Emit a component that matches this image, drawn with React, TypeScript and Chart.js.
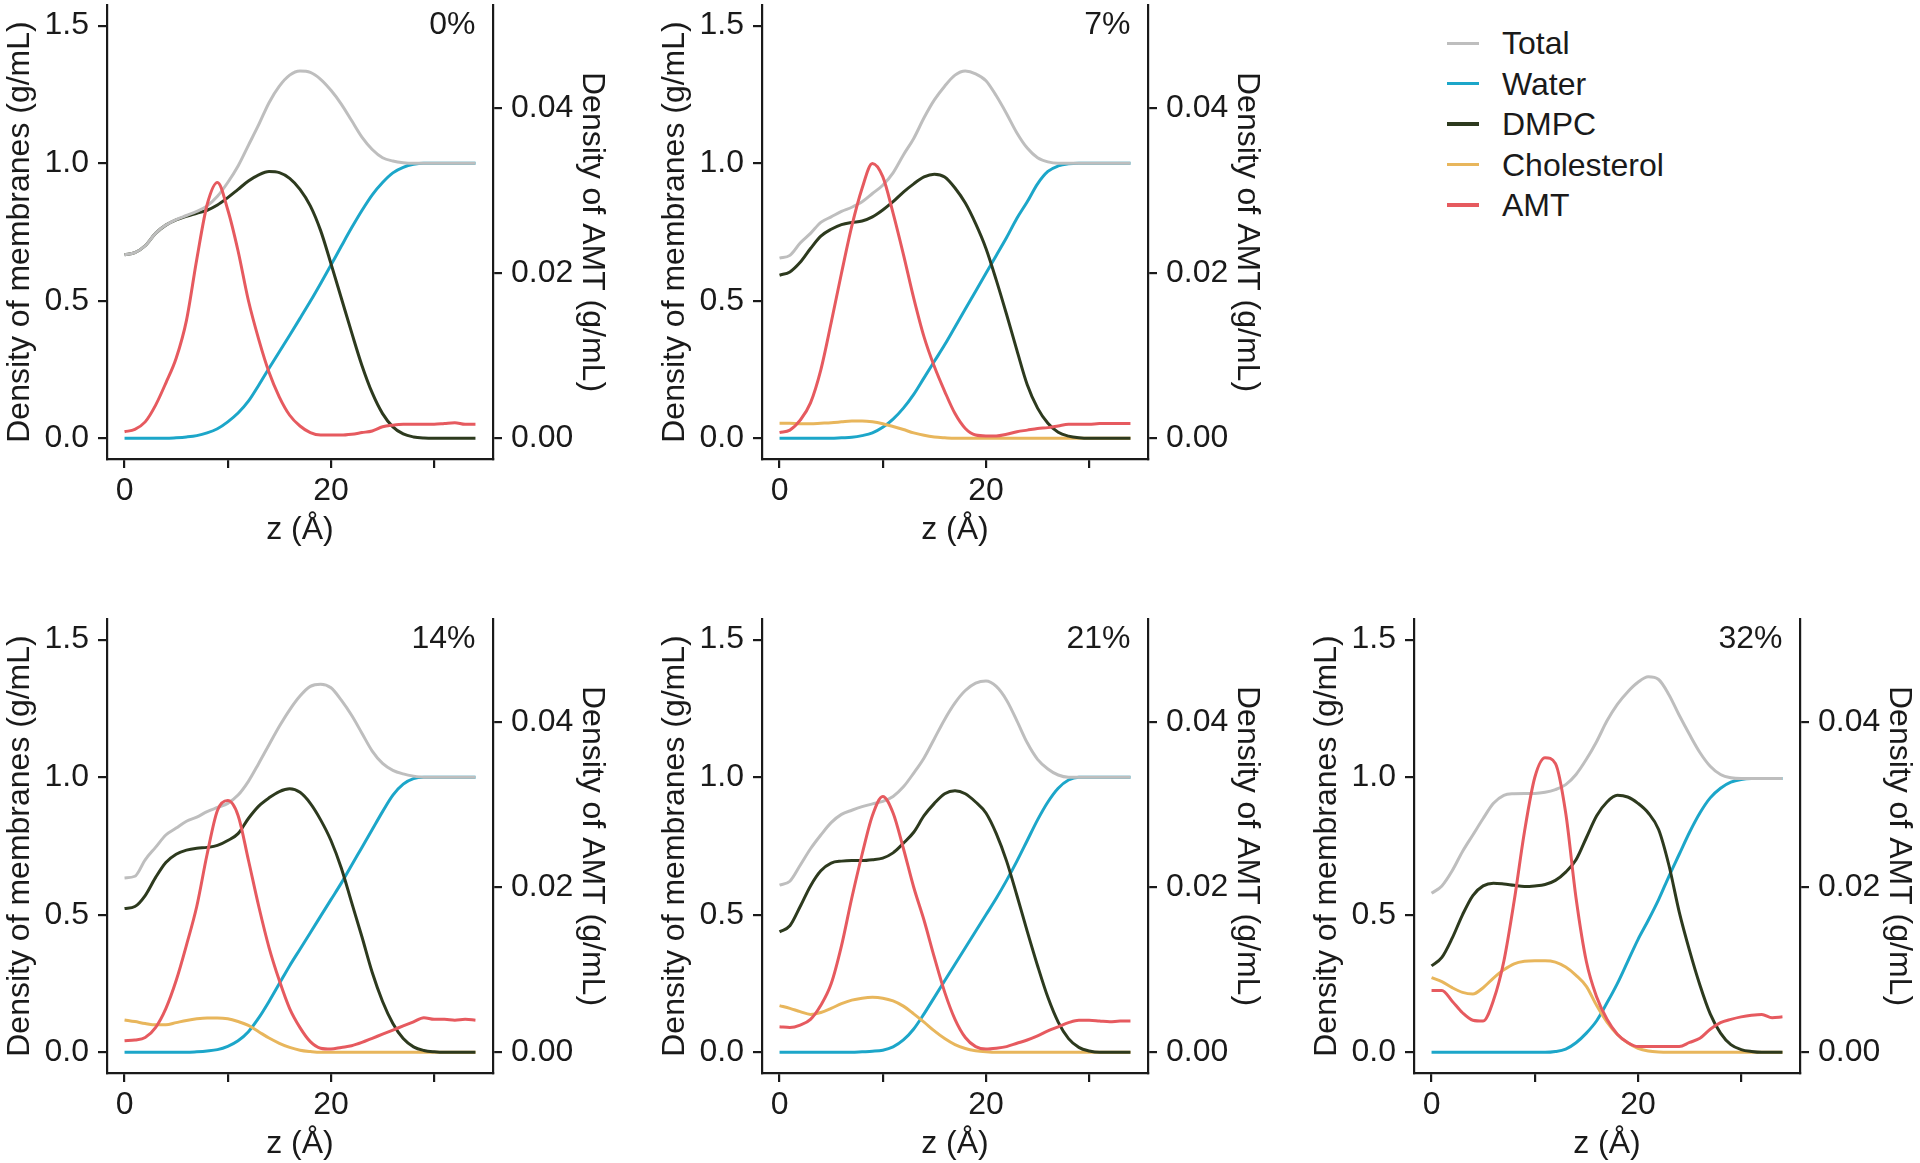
import React, { useEffect, useRef } from "react";
import { Chart, registerables } from "chart.js";

Chart.register(...registerables);

// ---------- data ----------
const Z = [0,1,2,3,4,5,6,7,8,9,10,11,12,13,14,15,16,17,18,19,20,21,22,23,24,25,26,27,28,29,30,31,32,33,34];

const SERIES_NAMES = ["Total", "Water", "DMPC", "Cholesterol", "AMT"];
const SERIES_COLORS = ["#BEBEBE", "#1CA6C9", "#2D3A1E", "#E8B65C", "#E65A5F"];
const SERIES_ORDER = [1, 4, 2, 3, 0];

const PANEL_LABELS = ["0%", "7%", "14%", "21%", "32%"];

// 0 %
const TOTAL_0 = [0.667,0.675,0.70,0.745,0.775,0.795,0.81,0.825,0.845,0.88,0.93,0.99,1.065,1.14,1.22,1.28,1.32,1.335,1.33,1.305,1.265,1.215,1.155,1.095,1.05,1.02,1.008,1.002,1.0,1.0,1.0,1.0,1.0,1.0,1.0];
const WATER_0 = [0,0,0,0,0,0.002,0.005,0.01,0.02,0.035,0.06,0.092,0.135,0.193,0.255,0.315,0.375,0.436,0.498,0.563,0.63,0.698,0.765,0.828,0.885,0.93,0.965,0.985,0.996,1.0,1.0,1.0,1.0,1.0,1.0];
const DMPC_0 = [0.667,0.675,0.70,0.745,0.775,0.794,0.807,0.818,0.829,0.848,0.875,0.905,0.935,0.958,0.97,0.966,0.945,0.905,0.845,0.755,0.635,0.51,0.385,0.265,0.165,0.09,0.042,0.016,0.005,0.001,0,0,0,0,0];
const AMT_0 = [0.0008,0.0011,0.0020,0.0040,0.0067,0.0097,0.0143,0.0217,0.0283,0.0310,0.0277,0.0227,0.0167,0.0120,0.0080,0.0050,0.0028,0.0015,0.0007,0.0004,0.0004,0.0004,0.0005,0.0007,0.0009,0.0014,0.0016,0.0017,0.0017,0.0017,0.0017,0.0018,0.0019,0.0017,0.0017];

// 7 %
const TOTAL_7 = [0.655,0.665,0.71,0.745,0.785,0.805,0.825,0.84,0.86,0.89,0.92,0.965,1.03,1.09,1.165,1.23,1.28,1.32,1.335,1.325,1.30,1.245,1.18,1.11,1.055,1.02,1.005,1.0,1.0,1.0,1.0,1.0,1.0,1.0,1.0];
const WATER_7 = [0,0,0,0,0,0,0.002,0.004,0.01,0.02,0.04,0.07,0.11,0.16,0.22,0.28,0.34,0.405,0.47,0.535,0.60,0.665,0.73,0.80,0.86,0.925,0.97,0.99,0.998,1.0,1.0,1.0,1.0,1.0,1.0];
const DMPC_7 = [0.593,0.605,0.64,0.69,0.735,0.76,0.777,0.785,0.79,0.805,0.83,0.86,0.895,0.925,0.95,0.96,0.95,0.91,0.855,0.78,0.69,0.575,0.45,0.32,0.195,0.11,0.055,0.022,0.008,0.002,0,0,0,0,0];
const CHOL_7 = [0.055,0.055,0.053,0.053,0.055,0.057,0.06,0.063,0.063,0.06,0.053,0.043,0.032,0.02,0.011,0.005,0.002,0,0,0,0,0,0,0,0,0,0,0,0,0,0,0,0,0,0];
const AMT_7 = [0.0007,0.0010,0.0022,0.0043,0.0083,0.0140,0.0200,0.0257,0.0303,0.0333,0.0317,0.0273,0.0223,0.0170,0.0123,0.0087,0.0057,0.0030,0.0012,0.0004,0.0003,0.0003,0.0005,0.0008,0.0010,0.0012,0.0013,0.0015,0.0017,0.0017,0.0017,0.0018,0.0018,0.0018,0.0018];

// 14 %
const TOTAL_14 = [0.634,0.64,0.70,0.745,0.79,0.815,0.84,0.855,0.875,0.89,0.905,0.935,0.985,1.05,1.118,1.185,1.245,1.295,1.33,1.338,1.325,1.28,1.225,1.16,1.095,1.05,1.025,1.012,1.004,1.0,1.0,1.0,1.0,1.0,1.0];
const WATER_14 = [0,0,0,0,0,0,0,0.002,0.005,0.01,0.022,0.042,0.075,0.125,0.185,0.25,0.315,0.375,0.435,0.495,0.555,0.615,0.68,0.745,0.81,0.875,0.935,0.975,0.995,1.0,1.0,1.0,1.0,1.0,1.0];
const DMPC_14 = [0.523,0.53,0.57,0.635,0.69,0.72,0.735,0.742,0.745,0.752,0.77,0.795,0.85,0.895,0.925,0.948,0.958,0.945,0.905,0.845,0.77,0.67,0.545,0.42,0.29,0.185,0.105,0.05,0.02,0.007,0.002,0,0,0,0];
const CHOL_14 = [0.118,0.112,0.105,0.1,0.1,0.108,0.116,0.122,0.125,0.125,0.122,0.112,0.098,0.075,0.052,0.033,0.018,0.008,0.003,0,0,0,0,0,0,0,0,0,0,0,0,0,0,0,0];
const AMT_14 = [0.0014,0.0015,0.0018,0.0030,0.0053,0.0087,0.0130,0.0177,0.0240,0.0293,0.0305,0.0287,0.0233,0.0177,0.0127,0.0087,0.0053,0.0030,0.0013,0.0005,0.0004,0.0006,0.0008,0.0012,0.0017,0.0022,0.0027,0.0032,0.0037,0.0042,0.0040,0.0040,0.0039,0.0040,0.0039];

// 21 %
const TOTAL_21 = [0.608,0.622,0.68,0.74,0.79,0.835,0.865,0.88,0.893,0.903,0.912,0.93,0.965,1.015,1.07,1.14,1.21,1.27,1.315,1.342,1.35,1.33,1.28,1.205,1.125,1.065,1.03,1.008,1.0,1.0,1.0,1.0,1.0,1.0,1.0];
const WATER_21 = [0,0,0,0,0,0,0,0,0.002,0.004,0.008,0.02,0.045,0.085,0.14,0.2,0.26,0.32,0.38,0.44,0.50,0.56,0.625,0.695,0.77,0.845,0.91,0.96,0.99,1.0,1.0,1.0,1.0,1.0,1.0];
const DMPC_21 = [0.438,0.46,0.53,0.605,0.66,0.688,0.695,0.697,0.697,0.70,0.706,0.725,0.76,0.80,0.86,0.905,0.94,0.951,0.94,0.91,0.87,0.795,0.695,0.57,0.44,0.315,0.2,0.11,0.05,0.018,0.005,0,0,0,0];
const CHOL_21 = [0.17,0.16,0.148,0.138,0.145,0.16,0.177,0.19,0.197,0.2,0.197,0.187,0.168,0.14,0.11,0.078,0.05,0.028,0.014,0.006,0.002,0,0,0,0,0,0,0,0,0,0,0,0,0,0];
const AMT_21 = [0.0031,0.0030,0.0033,0.0040,0.0057,0.0083,0.0129,0.0187,0.0240,0.0287,0.0310,0.0290,0.0247,0.0200,0.0160,0.0115,0.0073,0.0040,0.0018,0.0007,0.0004,0.0005,0.0007,0.0011,0.0015,0.0020,0.0026,0.0031,0.0036,0.0039,0.0039,0.0038,0.0037,0.0038,0.0038];

// 32 %
const TOTAL_32 = [0.578,0.605,0.66,0.73,0.79,0.85,0.905,0.934,0.94,0.941,0.941,0.945,0.955,0.973,1.01,1.065,1.13,1.205,1.265,1.31,1.345,1.365,1.355,1.3,1.225,1.155,1.09,1.04,1.01,0.998,0.995,0.995,0.995,0.995,0.995];
const WATER_32 = [0,0,0,0,0,0,0,0,0,0,0,0,0.003,0.012,0.035,0.07,0.115,0.18,0.25,0.33,0.41,0.48,0.555,0.64,0.72,0.80,0.87,0.925,0.96,0.982,0.992,0.995,0.995,0.995,0.995];
const DMPC_32 = [0.314,0.345,0.415,0.5,0.57,0.605,0.615,0.612,0.607,0.603,0.605,0.61,0.625,0.655,0.7,0.78,0.86,0.91,0.934,0.928,0.905,0.87,0.81,0.68,0.51,0.37,0.245,0.14,0.07,0.028,0.01,0.003,0,0,0];
const CHOL_32 = [0.272,0.257,0.235,0.218,0.212,0.235,0.27,0.3,0.322,0.331,0.333,0.333,0.328,0.31,0.28,0.24,0.17,0.11,0.065,0.035,0.015,0.005,0.001,0,0,0,0,0,0,0,0,0,0,0,0];
const AMT_32 = [0.0075,0.0075,0.0062,0.0048,0.0039,0.0038,0.0063,0.0110,0.0183,0.0267,0.0333,0.0357,0.0350,0.0290,0.0187,0.0110,0.0067,0.0040,0.0022,0.0012,0.0007,0.0007,0.0007,0.0007,0.0007,0.0012,0.0017,0.0028,0.0036,0.0040,0.0043,0.0045,0.0046,0.0042,0.0043];

const PANEL_SERIES = [
  [TOTAL_0, WATER_0, DMPC_0, null, AMT_0],
  [TOTAL_7, WATER_7, DMPC_7, CHOL_7, AMT_7],
  [TOTAL_14, WATER_14, DMPC_14, CHOL_14, AMT_14],
  [TOTAL_21, WATER_21, DMPC_21, CHOL_21, AMT_21],
  [TOTAL_32, WATER_32, DMPC_32, CHOL_32, AMT_32],
];

const X_TICKS = [0, 10, 20, 30];
const X_TICK_LABELS = ["0", "", "20", ""];
const Y_TICKS = [0, 0.5, 1.0, 1.5];
const Y_TICK_LABELS = ["0.0", "0.5", "1.0", "1.5"];
const Y2_TICKS = [0, 0.02, 0.04];
const Y2_TICK_LABELS = ["0.00", "0.02", "0.04"];

const X_TITLE = "z (Å)";
const Y_TITLE = "Density of membranes (g/mL)";
const Y2_TITLE = "Density of AMT (g/mL)";

// ---------- layout ----------
const FONT = '"Liberation Sans", Arial, Helvetica, sans-serif';
const TEXT = "#1a1a1a";
const AXIS = "#1a1a1a";
const FS = 32;
const PLOT_W = 386;
const PLOT_H = 454;
const LEFT_W = 107;
const RIGHT_W = 118.5;
const XAX_H = 90.2;
const PAD_TOP = 5;
const CANVAS_W = 613;
const CANVAS_H = 560;
const PANEL_ORIGINS = [
  [107, 5],
  [761.5, 5],
  [107, 619.3],
  [761.5, 619.3],
  [1414, 619.3],
];
const LEGEND_LINE_X = 1447;
const LEGEND_TEXT_X = 1502;
const LEGEND_Y0 = 43.3;
const LEGEND_DY = 40.4;

Chart.defaults.font.family = FONT;
Chart.defaults.color = TEXT;

const panelLabelPlugin = {
  id: "panelLabel",
  afterDatasetsDraw(chart: any, _args: any, opts: any) {
    const { ctx, scales } = chart;
    ctx.save();
    ctx.font = `${FS}px ${FONT}`;
    ctx.fillStyle = TEXT;
    ctx.textAlign = "right";
    ctx.textBaseline = "middle";
    ctx.fillText(opts.text, scales.x.getPixelForValue(34), scales.y.getPixelForValue(1.5));
    ctx.restore();
  },
};

function Panel({ idx }: { idx: number }) {
  const ref = useRef<HTMLCanvasElement | null>(null);
  useEffect(() => {
    const series = PANEL_SERIES[idx];
    const datasets: any[] = [];
    series.forEach((arr, s) => {
      if (!arr) return;
      datasets.push({
        label: SERIES_NAMES[s],
        data: Z.map((z, i) => ({ x: z, y: arr[i] })),
        borderColor: SERIES_COLORS[s],
        backgroundColor: SERIES_COLORS[s],
        borderWidth: 3,
        pointRadius: 0,
        fill: false,
        cubicInterpolationMode: "monotone",
        yAxisID: SERIES_NAMES[s] === "AMT" ? "y1" : "y",
        order: SERIES_ORDER[s],
      });
    });
    const gridOpts = { drawOnChartArea: false, drawTicks: true, tickLength: 9, color: AXIS, lineWidth: 2.2 };
    const borderOpts = { display: true, color: AXIS, width: 2.2 };
    const chart = new Chart(ref.current as HTMLCanvasElement, {
      type: "line",
      data: { datasets },
      plugins: [panelLabelPlugin],
      options: {
        animation: false,
        responsive: false,
        devicePixelRatio: 1,
        layout: { padding: { top: PAD_TOP, left: 0, right: CANVAS_W - LEFT_W - PLOT_W - RIGHT_W, bottom: CANVAS_H - PAD_TOP - PLOT_H - XAX_H } },
        plugins: {
          legend: { display: false },
          tooltip: { enabled: false },
          panelLabel: { text: PANEL_LABELS[idx] },
        } as any,
        scales: {
          x: {
            type: "linear",
            min: -1.7,
            max: 35.7,
            afterBuildTicks: (a: any) => { a.ticks = X_TICKS.map((v) => ({ value: v })); },
            afterFit: (s: any) => { s.height = XAX_H; s.paddingLeft = 0; s.paddingRight = 0; },
            ticks: {
              autoSkip: false, maxRotation: 0, padding: 4, color: TEXT,
              font: { size: FS, family: FONT },
              callback: (_v: any, i: number) => X_TICK_LABELS[i],
            },
            grid: gridOpts,
            border: borderOpts,
            title: { display: true, text: X_TITLE, color: TEXT, font: { size: FS, family: FONT }, padding: { top: 0, bottom: 0 } },
          },
          y: {
            type: "linear",
            position: "left",
            min: -0.075,
            max: 1.575,
            afterBuildTicks: (a: any) => { a.ticks = Y_TICKS.map((v) => ({ value: v })); },
            afterFit: (s: any) => { s.width = LEFT_W; s.paddingTop = 0; s.paddingBottom = 0; },
            ticks: {
              autoSkip: false, padding: 9, color: TEXT,
              font: { size: FS, family: FONT },
              callback: (_v: any, i: number) => Y_TICK_LABELS[i],
            },
            grid: gridOpts,
            border: borderOpts,
            title: { display: true, text: Y_TITLE, color: TEXT, font: { size: FS, family: FONT }, padding: { top: 1, bottom: 0 } },
          },
          y1: {
            type: "linear",
            position: "right",
            min: -0.0025,
            max: 0.0525,
            afterBuildTicks: (a: any) => { a.ticks = Y2_TICKS.map((v) => ({ value: v })); },
            afterFit: (s: any) => { s.width = RIGHT_W; s.paddingTop = 0; s.paddingBottom = 0; },
            ticks: {
              autoSkip: false, padding: 9, color: TEXT,
              font: { size: FS, family: FONT },
              callback: (_v: any, i: number) => Y2_TICK_LABELS[i],
            },
            grid: gridOpts,
            border: borderOpts,
            title: { display: true, text: Y2_TITLE, color: TEXT, font: { size: FS, family: FONT }, padding: { top: 0, bottom: 0 } },
          },
        },
      } as any,
    });
    return () => chart.destroy();
  }, [idx]);
  const [L, T] = PANEL_ORIGINS[idx];
  return (
    <canvas
      ref={ref}
      width={CANVAS_W}
      height={CANVAS_H}
      style={{ position: "absolute", left: L - LEFT_W, top: T - PAD_TOP, width: CANVAS_W, height: CANVAS_H }}
    />
  );
}

function Legend() {
  return (
    <>
      {SERIES_NAMES.map((name, i) => {
        const cy = LEGEND_Y0 + LEGEND_DY * i;
        return (
          <React.Fragment key={name}>
            <div style={{ position: "absolute", left: LEGEND_LINE_X, top: cy - 1.75, width: 32, height: 3.5, background: SERIES_COLORS[i] }} />
            <div
              style={{
                position: "absolute", left: LEGEND_TEXT_X, top: cy - 20, height: 40, lineHeight: "40px",
                fontFamily: FONT, fontSize: FS, color: TEXT, whiteSpace: "nowrap",
              }}
            >
              {name}
            </div>
          </React.Fragment>
        );
      })}
    </>
  );
}

export default function App() {
  return (
    <div style={{ position: "absolute", left: 0, top: 0, width: 1920, height: 1163, overflow: "hidden", background: "#fff" }}>
      {PANEL_LABELS.map((_, i) => (
        <Panel key={i} idx={i} />
      ))}
      <Legend />
    </div>
  );
}
